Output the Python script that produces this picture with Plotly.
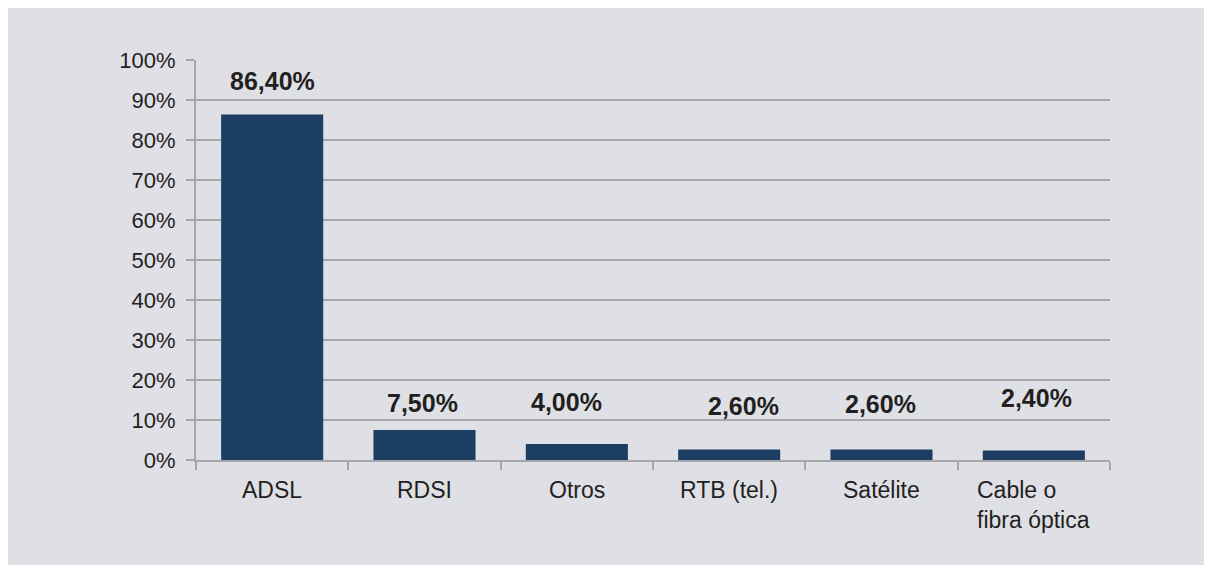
import plotly.graph_objects as go

categories = ["ADSL", "RDSI", "Otros", "RTB (tel.)", "Satélite", "Cable o<br>fibra óptica"]
values = [86.4, 7.5, 4.0, 2.6, 2.6, 2.4]
value_labels = ["86,40%", "7,50%", "4,00%", "2,60%", "2,60%", "2,40%"]
y_ticks = list(range(0, 101, 10))

# label offsets (style)
label_yshift = [33, 27, 42, 44, 46, 52]
label_xshift = [0, -2, -10, 14, -1, 3]

BG = "#dfe0e5"
GRID = "#a6a7aa"
TXT = "#231f20"
BAR = "#1c3e62"
FONT = "Liberation Sans, Arial, Helvetica, sans-serif"

W, H = 1204, 563
L, T, PW, PH = 188, 52, 914, 400

fig = go.Figure()
fig.add_trace(go.Bar(x=categories, y=values, marker=dict(color=BAR, line=dict(width=0)),
                     hoverinfo="skip", showlegend=False))

for i, (c, v, t) in enumerate(zip(categories, values, value_labels)):
    fig.add_annotation(x=c, y=v, text=t, showarrow=False, yanchor="middle",
                       yshift=label_yshift[i], xshift=label_xshift[i],
                       font=dict(family=FONT, size=25, color=TXT, weight="bold"))
    fig.add_annotation(x=c, y=0, text=c, showarrow=False, yanchor="top", xanchor="center",
                       align="left", yshift=-15,
                       font=dict(family=FONT, size=23, color=TXT))

fig.add_shape(type="rect", xref="paper", yref="paper",
              x0=(0 - L) / PW, x1=(1197 - L) / PW,
              y0=(T + PH - 557) / PH, y1=(T + PH - 0) / PH,
              fillcolor=BG, line=dict(width=0), layer="below")

fig.update_layout(
    width=W, height=H,
    margin=dict(l=L, r=W - L - PW, t=T, b=H - T - PH),
    paper_bgcolor="white", plot_bgcolor="rgba(0,0,0,0)",
    bargap=0.33,
    font=dict(family=FONT, size=22, color=TXT),
    xaxis=dict(type="category", showticklabels=False, tickson="boundaries",
               ticks="outside", ticklen=8, tickwidth=2, tickcolor=GRID,
               showline=True, linecolor=GRID, linewidth=2, showgrid=False),
    yaxis=dict(range=[0, 100], tickvals=y_ticks, ticktext=[f"{v}%" for v in y_ticks],
               ticks="outside", ticklen=8, tickwidth=2, tickcolor=GRID,
               showline=True, linecolor=GRID, linewidth=2,
               showgrid=True, gridcolor=GRID, gridwidth=2, zeroline=False,
               ticklabelstandoff=6,
               tickfont=dict(family=FONT, size=22, color=TXT)),
)

fig.write_html("out.html")
